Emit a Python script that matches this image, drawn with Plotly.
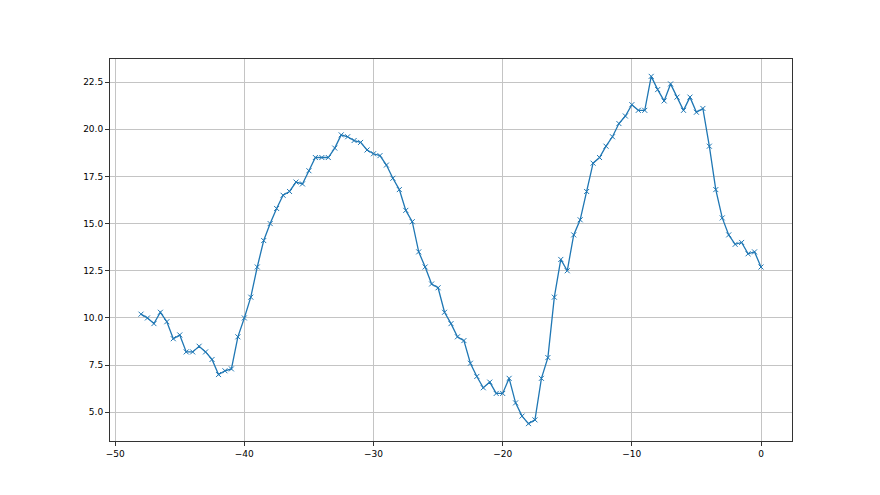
import plotly.graph_objects as go

x_start = -48.0
x_step = 0.5
values = [10.2, 10.0, 9.7, 10.3, 9.8, 8.9, 9.1, 8.2, 8.2, 8.5, 8.2, 7.8, 7.0, 7.2, 7.3, 9.0,
          10.0, 11.1, 12.7, 14.1, 15.0, 15.8, 16.5, 16.7, 17.2, 17.1, 17.8, 18.5, 18.5, 18.5,
          19.0, 19.7, 19.6, 19.4, 19.3, 18.9, 18.7, 18.6, 18.1, 17.4, 16.8, 15.7, 15.1, 13.5,
          12.7, 11.8, 11.6, 10.3, 9.7, 9.0, 8.8, 7.6, 6.9, 6.3, 6.6, 6.0, 6.0, 6.8, 5.5, 4.8,
          4.4, 4.6, 6.8, 7.9, 11.1, 13.1, 12.5, 14.4, 15.2, 16.7, 18.2, 18.5, 19.1, 19.6, 20.3,
          20.7, 21.3, 21.0, 21.0, 22.8, 22.1, 21.5, 22.4, 21.7, 21.0, 21.7, 20.9, 21.1, 19.1,
          16.8, 15.3, 14.4, 13.9, 14.0, 13.4, 13.5, 12.7]
x_values = [x_start + i * x_step for i in range(len(values))]

x_ticks = [-50, -40, -30, -20, -10, 0]
y_ticks = [5.0, 7.5, 10.0, 12.5, 15.0, 17.5, 20.0, 22.5]

fig = go.Figure()
fig.add_trace(go.Scatter(
    x=x_values, y=values, mode="lines+markers",
    line=dict(color="#1f77b4", width=1.3),
    marker=dict(symbol="x-thin", size=5, line=dict(color="#1f77b4", width=1)),
    showlegend=False,
))

xmin, xmax = min(x_values), max(x_values)
ymin, ymax = min(values), max(values)
xm = (xmax - xmin) * 0.05
ym = (ymax - ymin) * 0.05

axis_common = dict(
    showline=True, linecolor="#333333", linewidth=1, mirror=True,
    ticks="outside", ticklen=4, tickcolor="#333333", tickwidth=1,
    showgrid=True, gridcolor="#c4c4c4", gridwidth=0.8,
    zeroline=False, tickfont=dict(family="DejaVu Sans", size=9, color="black"),
)

fig.update_layout(
    width=880, height=495,
    margin=dict(l=102, r=96, t=51, b=62),
    paper_bgcolor="white", plot_bgcolor="white",
    xaxis=dict(range=[xmin - xm, xmax + xm], tickvals=x_ticks, **axis_common),
    yaxis=dict(range=[ymin - ym, ymax + ym], tickvals=y_ticks, tickformat=".1f", **axis_common),
)

fig.write_html("out.html")
